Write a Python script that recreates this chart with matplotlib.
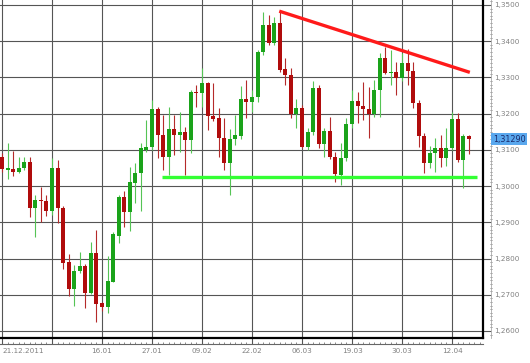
import matplotlib
matplotlib.use("Agg")
import matplotlib.pyplot as plt
import numpy as np
import pandas as pd
from matplotlib.ticker import MultipleLocator, FuncFormatter

# daily OHLC, EUR/USD
opens = [1.3080, 1.3044, 1.3047, 1.3040, 1.3051, 1.3067, 1.2940, 1.2962, 1.2959, 1.2931,
         1.3050, 1.2939, 1.2790, 1.2716, 1.2766, 1.2779, 1.2705, 1.2815, 1.2677, 1.2666,
         1.2736, 1.2862, 1.2970, 1.2928, 1.3009, 1.3036, 1.3100, 1.3108, 1.3213, 1.3141,
         1.3080, 1.3158, 1.3141, 1.3149, 1.3127, 1.3260, 1.3257, 1.3285, 1.3194, 1.3188,
         1.3133, 1.3064, 1.3130, 1.3138, 1.3240, 1.3232, 1.3246, 1.3370, 1.3445, 1.3395,
         1.3450, 1.3323, 1.3307, 1.3199, 1.3216, 1.3108, 1.3149, 1.3271, 1.3116, 1.3152,
         1.3080, 1.3030, 1.3077, 1.3171, 1.3235, 1.3221, 1.3213, 1.3199, 1.3265, 1.3354,
         1.3312, 1.3315, 1.3298, 1.3340, 1.3318, 1.3229, 1.3138, 1.3064, 1.3091, 1.3105,
         1.3077, 1.3105, 1.3185, 1.3072, 1.3138]
highs = [1.3090, 1.3119, 1.3097, 1.3081, 1.3081, 1.3080, 1.2975, 1.2998, 1.2975, 1.3078,
         1.3072, 1.2945, 1.2813, 1.2782, 1.2818, 1.2785, 1.2846, 1.2878, 1.2680, 1.2807,
         1.2873, 1.2975, 1.2986, 1.3053, 1.3064, 1.3119, 1.3182, 1.3237, 1.3218, 1.3196,
         1.3218, 1.3196, 1.3204, 1.3163, 1.3265, 1.3279, 1.3326, 1.3287, 1.3285, 1.3216,
         1.3188, 1.3158, 1.3196, 1.3276, 1.3293, 1.3265, 1.3376, 1.3481, 1.3472, 1.3467,
         1.3481, 1.3354, 1.3326, 1.3240, 1.3224, 1.3160, 1.3290, 1.3279, 1.3160, 1.3191,
         1.3094, 1.3119, 1.3188, 1.3265, 1.3260, 1.3287, 1.3274, 1.3293, 1.3367, 1.3384,
         1.3376, 1.3343, 1.3367, 1.3379, 1.3343, 1.3238, 1.3147, 1.3111, 1.3133, 1.3141,
         1.3160, 1.3204, 1.3202, 1.3144, 1.3140]
lows = [1.3040, 1.3020, 1.3029, 1.3035, 1.3044, 1.2915, 1.2860, 1.2901, 1.2917, 1.2920,
        1.2899, 1.2771, 1.2697, 1.2669, 1.2760, 1.2663, 1.2703, 1.2625, 1.2655, 1.2650,
        1.2736, 1.2843, 1.2887, 1.2876, 1.2953, 1.2930, 1.3095, 1.3100, 1.3078, 1.3044,
        1.3031, 1.3086, 1.3094, 1.3031, 1.3091, 1.3218, 1.3218, 1.3155, 1.3180, 1.3080,
        1.3044, 1.2975, 1.3113, 1.3130, 1.3188, 1.3205, 1.3232, 1.3362, 1.3390, 1.3390,
        1.3315, 1.3279, 1.3188, 1.3160, 1.3105, 1.3100, 1.3140, 1.3105, 1.3080, 1.3075,
        1.3011, 1.3003, 1.3070, 1.3160, 1.3174, 1.3182, 1.3133, 1.3190, 1.3191, 1.3309,
        1.3279, 1.3251, 1.3290, 1.3279, 1.3215, 1.3108, 1.3036, 1.3050, 1.3039, 1.3053,
        1.3055, 1.3100, 1.3066, 1.2994, 1.3089]
closes = [1.3047, 1.3050, 1.3040, 1.3051, 1.3067, 1.2939, 1.2962, 1.2958, 1.2931, 1.3051,
          1.2939, 1.2789, 1.2716, 1.2766, 1.2780, 1.2705, 1.2815, 1.2675, 1.2666, 1.2738,
          1.2868, 1.2970, 1.2928, 1.3011, 1.3036, 1.3105, 1.3108, 1.3213, 1.3141, 1.3080,
          1.3158, 1.3141, 1.3149, 1.3127, 1.3260, 1.3257, 1.3285, 1.3194, 1.3185, 1.3133,
          1.3064, 1.3130, 1.3141, 1.3240, 1.3232, 1.3246, 1.3370, 1.3445, 1.3395, 1.3450,
          1.3321, 1.3307, 1.3199, 1.3216, 1.3108, 1.3149, 1.3271, 1.3116, 1.3152, 1.3080,
          1.3033, 1.3077, 1.3171, 1.3235, 1.3221, 1.3213, 1.3199, 1.3265, 1.3354, 1.3312,
          1.3315, 1.3298, 1.3340, 1.3318, 1.3229, 1.3138, 1.3064, 1.3091, 1.3105, 1.3077,
          1.3105, 1.3185, 1.3072, 1.3138, 1.3129]

dates = pd.bdate_range("2011-12-21", periods=len(opens))

# hand drawn trend lines (bar index, price)
resist_x = [49.9, 84.2]
resist_y = [1.3483, 1.3314]
support_x = [28.8, 85.5]
support_y = [1.3025, 1.3025]

last_price = 1.3129
price_ticks = np.arange(1.26, 1.3501, 0.01)

o = np.array(opens)
h = np.array(highs)
l = np.array(lows)
c = np.array(closes)
x = np.arange(len(o))
up = c >= o

fig = plt.figure(figsize=(5.3, 3.63), dpi=100)
ax = fig.add_axes([0.0, 25 / 363, 483 / 530, 338 / 363])

step = 483 / 86.93
ax.set_xlim(-2 / step, 481 / step)
ax.set_ylim(1.25806, 1.35138)

# grid
ax.set_xticks(x[::9])
ax.set_yticks(price_ticks)
ax.grid(True, color="#555555", linewidth=0.8)
ax.set_axisbelow(True)
ax.tick_params(length=0, labelbottom=False, labelleft=False)

# candles
wick_col = np.where(up, "#55c455", "#b52a2a")
body_col = np.where(up, "#1aa31a", "#b00c0c")
ax.vlines(x, l, h, colors=wick_col, linewidth=0.8, zorder=2)
body_h = np.maximum(np.abs(c - o), 0.00015)
ax.bar(x, body_h, bottom=np.minimum(o, c), width=0.72, color=body_col, zorder=3)

ax.plot(resist_x, resist_y, color="#ff1a1a", linewidth=2.4, solid_capstyle="butt", zorder=4)
ax.plot(support_x, support_y, color="#33ff33", linewidth=2.4, solid_capstyle="butt", zorder=4)

for s in ["top", "left"]:
    ax.spines[s].set_visible(False)
for s in ["right", "bottom"]:
    ax.spines[s].set_color("black")
    ax.spines[s].set_linewidth(1.6)

# bottom time axis, a bit below the frame
sx = ax.secondary_xaxis(-6 / 338)
labels = [d.strftime("%d.%m") for d in dates[::9]]
labels[0] = dates[0].strftime("%d.%m.%Y")
labels[1] = ""
sx.set_xticks(x[::9])
sx.set_xticklabels(labels)
sx.xaxis.set_minor_locator(MultipleLocator(1))
sx.tick_params(which="major", direction="in", length=4.5, width=0.8, color="#555555",
               labelsize=5.2, labelcolor="#808080", pad=3)
sx.tick_params(which="minor", direction="in", length=1.6, width=0.6, color="#777777")
sx.spines["bottom"].set_color("#666666")
sx.spines["bottom"].set_linewidth(0.8)
sx.get_xticklabels()[0].set_horizontalalignment("left")

# right price axis
sy = ax.secondary_yaxis(1 + 8 / 483)
sy.set_yticks(price_ticks)
sy.yaxis.set_major_formatter(FuncFormatter(lambda v, p: f"{v:.4f}".replace(".", ",")))
sy.yaxis.set_minor_locator(MultipleLocator(0.001))
sy.tick_params(which="major", direction="in", length=6, width=0.8, color="#555555",
               labelsize=5.2, labelcolor="#808080", pad=2)
sy.tick_params(which="minor", direction="inout", length=2, width=0.6, color="#777777")
sy.spines["right"].set_color("#aaaaaa")
sy.spines["right"].set_linewidth(0.6)

# last price tag
ax.annotate(f"{last_price:.5f}".replace(".", ","), xy=(1 + 10 / 483, last_price),
            xycoords=("axes fraction", "data"), va="center", ha="left",
            fontsize=5.8, color="#1a2a6a", annotation_clip=False, zorder=6,
            bbox=dict(boxstyle="square,pad=0.2", facecolor="#5aa8ee", edgecolor="none"))

fig.savefig("out.png", dpi=100, facecolor="white")
